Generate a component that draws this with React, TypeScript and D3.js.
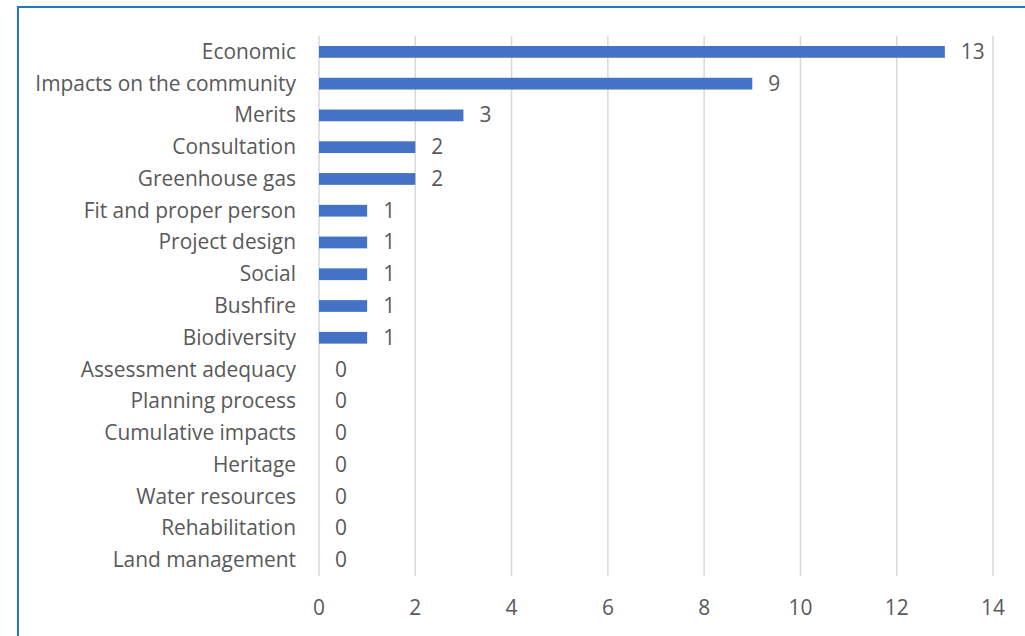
import React from "react";
import * as d3 from "d3";

const categories = [
  "Economic",
  "Impacts on the community",
  "Merits",
  "Consultation",
  "Greenhouse gas",
  "Fit and proper person",
  "Project design",
  "Social",
  "Bushfire",
  "Biodiversity",
  "Assessment adequacy",
  "Planning process",
  "Cumulative impacts",
  "Heritage",
  "Water resources",
  "Rehabilitation",
  "Land management",
];
const values = [13, 9, 3, 2, 2, 1, 1, 1, 1, 1, 0, 0, 0, 0, 0, 0, 0];
const xTicks = [0, 2, 4, 6, 8, 10, 12, 14];

const W = 1025;
const H = 636;
const left = 319;
const right = 993;
const top = 36;
const bottom = 576;
const FONT = "'Open Sans', sans-serif";
const TEXT = "#595959";
const FS = 20.9;

export default function App() {
  const x = d3.scaleLinear().domain([0, 14]).range([left, right]);
  const y = d3
    .scaleBand<string>()
    .domain(categories)
    .range([top, bottom])
    .paddingInner(0.63)
    .paddingOuter(0.315);
  const bw = y.bandwidth();
  return (
    <svg
      width={W}
      height={H}
      style={{ position: "absolute", left: 0, top: 0 }}
      fontFamily={FONT}
    >
      <rect x={0} y={0} width={W} height={H} fill="#fff" />
      <rect
        x={18}
        y={7}
        width={W + 20}
        height={H + 20}
        fill="#fff"
        stroke="#1F77C8"
        strokeWidth={2}
      />
      {xTicks.map((t) => (
        <line
          key={"g" + t}
          x1={x(t)}
          x2={x(t)}
          y1={top}
          y2={bottom}
          stroke="#D9D9D9"
          strokeWidth={1.5}
        />
      ))}
      {categories.map((c, i) => (
        <g key={c}>
          <rect
            x={x(0)}
            y={y(c)!}
            width={x(values[i]) - x(0)}
            height={bw}
            fill="#4472C4"
          />
          <text
            x={296}
            y={y(c)! + bw / 2 - 1}
            textAnchor="end"
            dominantBaseline="central"
            fontSize={FS}
            fill={TEXT}
          >
            {c}
          </text>
          <text
            x={x(values[i]) + 16}
            y={y(c)! + bw / 2 - 1}
            dominantBaseline="central"
            fontSize={FS}
            fill={TEXT}
          >
            {values[i]}
          </text>
        </g>
      ))}
      {xTicks.map((t) => (
        <text
          key={"t" + t}
          x={x(t)}
          y={607}
          textAnchor="middle"
          dominantBaseline="central"
          fontSize={FS}
          fill={TEXT}
        >
          {t}
        </text>
      ))}
    </svg>
  );
}
